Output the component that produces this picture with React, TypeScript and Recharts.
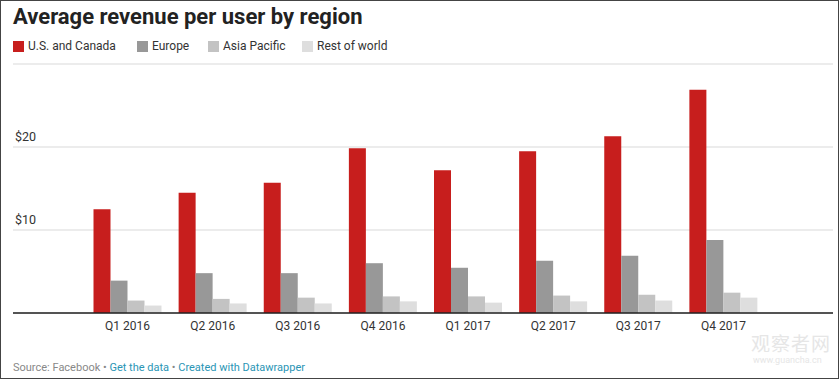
import { Bar, BarChart, CartesianGrid, XAxis, YAxis } from 'recharts';

const quarters = ['Q1 2016', 'Q2 2016', 'Q3 2016', 'Q4 2016', 'Q1 2017', 'Q2 2017', 'Q3 2017', 'Q4 2017'];
const usCanada = [12.5, 14.5, 15.7, 19.85, 17.2, 19.5, 21.3, 26.9];
const europe = [3.9, 4.8, 4.8, 6.0, 5.45, 6.3, 6.9, 8.8];
const asiaPacific = [1.5, 1.7, 1.85, 2.0, 2.0, 2.1, 2.2, 2.45];
const restOfWorld = [0.9, 1.15, 1.15, 1.4, 1.25, 1.4, 1.5, 1.85];
const yTicks = [10, 20];

const SERIES = [
  { key: 'us', name: 'U.S. and Canada', color: '#c71e1d', left: 13 },
  { key: 'europe', name: 'Europe', color: '#989898', left: 137 },
  { key: 'asia', name: 'Asia Pacific', color: '#c3c3c3', left: 208 },
  { key: 'rest', name: 'Rest of world', color: '#dedede', left: 302 },
];

const data = quarters.map((q, i) => ({
  quarter: q,
  us: usCanada[i],
  europe: europe[i],
  asia: asiaPacific[i],
  rest: restOfWorld[i],
}));

const FONT = 'Roboto, "Noto Sans", sans-serif';

const renderYTick = (props: any) => (
  <text key={props.payload.value} x={15} y={props.y - 6} fontSize={12.5} fill="#333" fontFamily={FONT}>
    {'$' + props.payload.value}
  </text>
);

export default function App() {
  return (
    <div
      style={{
        position: 'relative',
        width: 839,
        height: 379,
        boxSizing: 'border-box',
        border: '1px solid #444',
        background: '#fff',
        fontFamily: FONT,
        overflow: 'hidden',
      }}
    >
      <style>{'body{margin:0}'}</style>
      <div style={{ position: 'absolute', left: 12, top: 5, fontSize: 22, fontWeight: 700, color: '#222', lineHeight: '22px' }}>
        Average revenue per user by region
      </div>
      {SERIES.map(s => (
        <div
          key={s.key}
          style={{ position: 'absolute', left: s.left - 1, top: 39, display: 'flex', alignItems: 'center', fontSize: 12, color: '#333', lineHeight: '12px' }}
        >
          <span style={{ width: 11, height: 11, background: s.color, marginRight: 4, display: 'inline-block' }} />
          {s.name}
        </div>
      ))}
      <div style={{ position: 'absolute', top: 0, left: -1 }}>
        <BarChart
          width={839}
          height={345}
          data={data}
          margin={{ top: 63, right: 6, left: -47, bottom: 3 }}
          barCategoryGap={8.5}
          barGap={0}
        >
          <CartesianGrid vertical={false} stroke="#d9d9d9" />
          <XAxis
            dataKey="quarter"
            height={30}
            padding={{ left: 72, right: 67 }}
            tickLine={false}
            axisLine={{ stroke: '#222', strokeWidth: 1.5 }}
            tick={{ fontSize: 12, fill: '#333', fontFamily: FONT }}
            interval={0}
          />
          <YAxis width={60} domain={[0, 30]} ticks={yTicks} axisLine={false} tickLine={false} tick={renderYTick} />
          {SERIES.map(s => (
            <Bar key={s.key} dataKey={s.key} name={s.name} fill={s.color} isAnimationActive={false} />
          ))}
        </BarChart>
      </div>
      <div style={{ position: 'absolute', left: 12, top: 361, fontSize: 11, color: '#888', lineHeight: '12px' }}>
        Source: Facebook • <span style={{ color: '#2a95b5' }}>Get the data</span> •{' '}
        <span style={{ color: '#2a95b5' }}>Created with Datawrapper</span>
      </div>
      <div style={{ position: 'absolute', left: 750, top: 332, color: '#e6e6e6', fontSize: 19, lineHeight: '19px', letterSpacing: 1, fontFamily: '"Noto Sans CJK SC", sans-serif' }}>
        观察者网
      </div>
      <div style={{ position: 'absolute', left: 752, top: 355, color: '#e6e6e6', fontSize: 9, lineHeight: '9px' }}>
        www.guancha.cn
      </div>
    </div>
  );
}
